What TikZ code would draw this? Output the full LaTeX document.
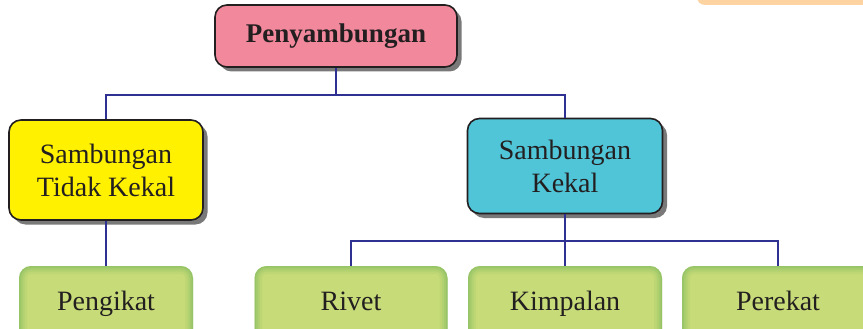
\documentclass[tikz,border=0pt]{standalone}
\usepackage{fontspec}
\setmainfont{Liberation Serif}
\usepackage{tikz}
\usetikzlibrary{shadows}
\definecolor{rootpink}{HTML}{F2889C}
\definecolor{tkyellow}{HTML}{FFF100}
\definecolor{kcyan}{HTML}{50C5D8}
\definecolor{leafgreen}{HTML}{C7DC78}
\definecolor{leafedge}{HTML}{6FB35A}
\definecolor{inkdark}{HTML}{231F20}
\definecolor{linkblue}{HTML}{2E3192}
\definecolor{peach}{HTML}{FDD3A2}
\tikzset{
  headbox/.style={draw=inkdark, line width=1.6pt, rounded corners=12pt, text=inkdark,
    inner sep=0pt, align=center, font=\fontsize{28}{33}\selectfont,
    drop shadow={shadow xshift=4.5pt, shadow yshift=-4.5pt, fill=black!70, opacity=.75}},
  leafbox/.style={fill=leafgreen, rounded corners=12pt, text=inkdark, inner sep=0pt,
    minimum height=76pt, text height=19pt, text depth=6pt,
    font=\fontsize{28}{33}\selectfont,
    path picture={
      \foreach \w/\o in {16/0.10,11/0.14,7/0.18,3/0.25}
        \draw[line width=\w pt, leafedge, opacity=\o, rounded corners=12pt]
          (path picture bounding box.south west) rectangle (path picture bounding box.north east);}},
  link/.style={draw=linkblue, line width=1.2pt}
}
\begin{document}
\begin{tikzpicture}[x=1pt,y=1pt,yscale=-1]
\useasboundingbox (0,0) rectangle (863,329);
\clip (0,0) rectangle (863,329);

%Shape: Rounded Rect (tab at the top right)
\fill[peach, rounded corners=8pt] (697,-20) rectangle (880,5);

% Top level
\node[headbox, fill=rootpink, minimum width=242pt, minimum height=62pt,
  font=\fontsize{27}{33}\selectfont\bfseries] (root) at (336,36) {Penyambungan};

% Second level
\node[headbox, fill=tkyellow, minimum width=194pt, minimum height=100pt] (tidak) at (106,170)
  {Sambungan\\Tidak Kekal};
\node[headbox, fill=kcyan, minimum width=195pt, minimum height=95pt] (kekal) at (565,166)
  {Sambungan\\Kekal};

% Third level
\node[leafbox, minimum width=174pt] (pengikat) at (106,304) {Pengikat};
\node[leafbox, minimum width=193pt] (rivet) at (351,304) {Rivet};
\node[leafbox, minimum width=194pt] (kimpalan) at (565,304) {Kimpalan};
\node[leafbox, minimum width=192pt] (perekat) at (778,304) {Perekat};

% Connectors
\coordinate (split1) at (336,95);
\coordinate (split2) at (565,241);
\draw[link] (root.south) -- (split1);
\draw[link] (split1) -| (tidak.north);
\draw[link] (split1) -| (kekal.north);
\draw[link] (tidak.south) -- (pengikat.north);
\draw[link] (kekal.south) -- (split2);
\draw[link] (split2) -| (rivet.north);
\draw[link] (split2) -- (kimpalan.north);
\draw[link] (split2) -| (perekat.north);

\end{tikzpicture}
\end{document}
